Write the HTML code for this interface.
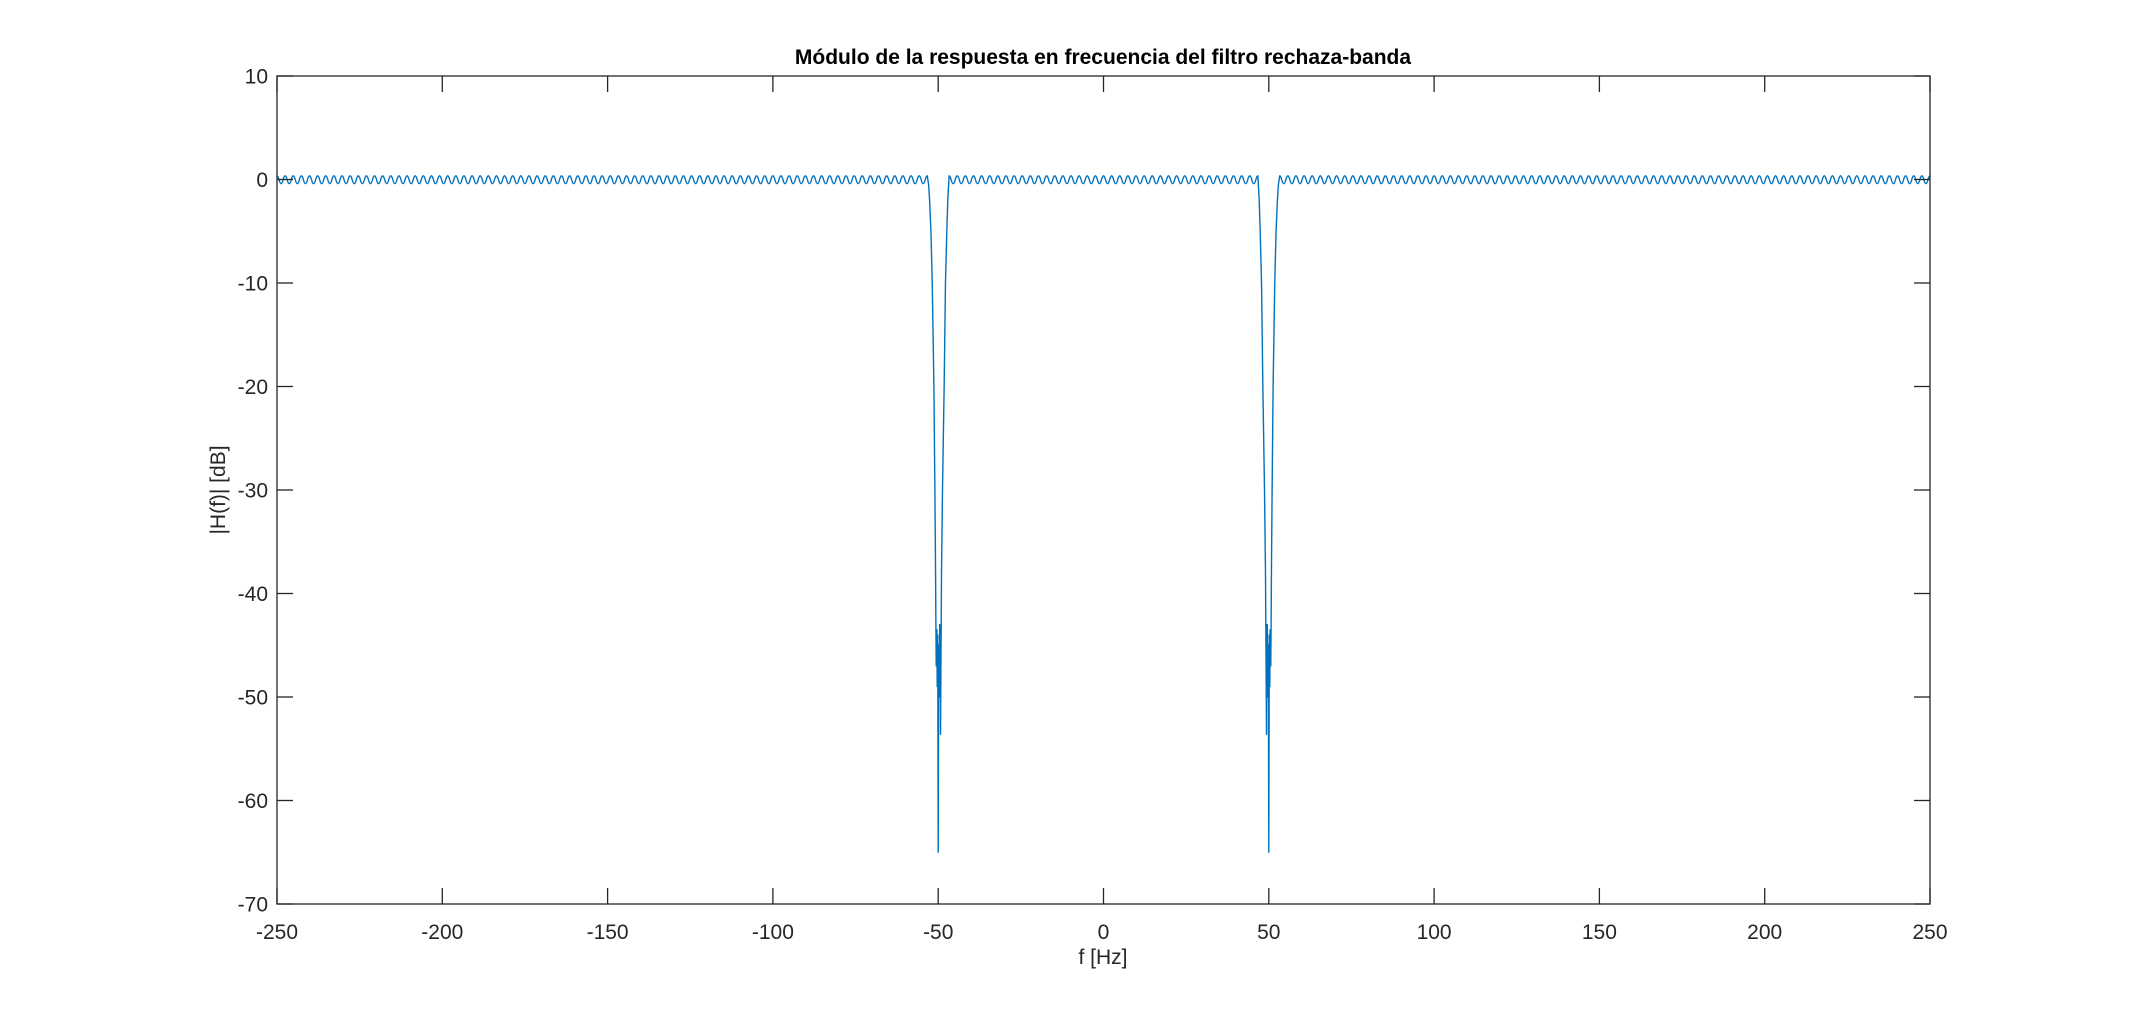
<!DOCTYPE html>
<html><head><meta charset="utf-8"><style>
body{margin:0;background:#fff}
svg text{font-family:"Liberation Sans",Arial,sans-serif;fill:#262626}
</style></head><body>
<svg id="chart" width="2134" height="1017" xmlns="http://www.w3.org/2000/svg">
<rect width="2134" height="1017" fill="#fff"/>
<text x="1103" y="64" font-size="21" font-weight="bold" text-anchor="middle" style="fill:#000">Módulo de la respuesta en frecuencia del filtro rechaza-banda</text>
<text x="1103" y="964" font-size="21" text-anchor="middle">f [Hz]</text>
<text transform="translate(225,490) rotate(-90)" font-size="21" text-anchor="middle">|H(f)| [dB]</text>
<g id="series"></g>
<g id="axes"></g>
</svg>
<script>
const xTicks=[-250,-200,-150,-100,-50,0,50,100,150,200,250];
const yTicks=[10,0,-10,-20,-30,-40,-50,-60,-70];
const segments=[[-250,-53.3],[-46.7,46.7],[53.3,250]];
const rippleCycles=[80,38,80];
const rippleHigh=[0.35,0.35,0.35];
const rippleLow=[-0.4,-0.4,-0.4];
const notchLeftF=[-53.3,-52.9,-52.6,-52.2,-51.8,-51.3,-51.0,-50.8,-50.7,-50.6,-50.4,-50.3,-50.15,-50.0,-49.85,-49.7,-49.55,-49.45,-49.4,-49.3,-49.0,-48.7,-48.2,-47.8,-47.4,-47.1,-46.7];
const notchLeftDb=[0.35,-0.5,-2,-5,-10,-20,-30,-38,-43,-47,-43.5,-49,-44,-65,-45,-50,-43,-47,-43,-53.6,-38,-30,-20,-10,-5,-2,0.35];
const notchRightF=[46.7,47.1,47.4,47.8,48.2,48.7,49.0,49.3,49.4,49.45,49.55,49.7,49.85,50.0,50.15,50.3,50.4,50.6,50.7,50.8,51.0,51.3,51.8,52.2,52.6,52.9,53.3];
const notchRightDb=[0.35,-2,-5,-10,-20,-30,-38,-53.6,-43,-47,-43,-50,-45,-65,-44,-49,-43.5,-47,-43,-38,-30,-20,-10,-5,-2,-0.5,0.35];

const L=277,R=1930,T=76,B=904,xMin=-250,xMax=250,yMin=-70,yMax=10;
const X=f=>L+(f-xMin)/(xMax-xMin)*(R-L);
const Y=v=>B-(v-yMin)/(yMax-yMin)*(B-T);
const NS='http://www.w3.org/2000/svg';
const ser=document.getElementById('series'),ax=document.getElementById('axes');
let d='';
function P(x,y){return X(x).toFixed(2)+','+Y(y).toFixed(2);}
function ripple(i,first){
  const [a,b]=segments[i];const n=rippleCycles[i]*2;
  let px=a,py=rippleHigh[i];
  d+=(first?'M':'L')+P(px,py);
  for(let k=1;k<=n;k++){const f=a+(b-a)*k/n;const v=k%2===0?rippleHigh[i]:rippleLow[i];
    const m=(f-px)/2;d+='C'+P(px+m,py)+' '+P(f-m,v)+' '+P(f,v);px=f;py=v;}
}
function notch(fs,vs){fs.forEach((f,i)=>{if(i>0)d+='L'+P(f,vs[i]);});}
ripple(0,true);
notch(notchLeftF,notchLeftDb);
ripple(1,false);
notch(notchRightF,notchRightDb);
ripple(2,false);
const path=document.createElementNS(NS,'path');


path.setAttribute('d',d);path.setAttribute('fill','none');path.setAttribute('stroke','#0072BD');
path.setAttribute('stroke-width','1.4');path.setAttribute('stroke-linejoin','round');
ser.appendChild(path);
const box=document.createElementNS(NS,'rect');


box.setAttribute('x',L);box.setAttribute('y',T);box.setAttribute('width',R-L);box.setAttribute('height',B-T);
box.setAttribute('fill','none');box.setAttribute('stroke','#262626');box.setAttribute('stroke-width','1.3');
ax.appendChild(box);
function line(x1,y1,x2,y2){const l=document.createElementNS(NS,'line');


l.setAttribute('x1',x1);l.setAttribute('y1',y1);l.setAttribute('x2',x2);l.setAttribute('y2',y2);l.setAttribute('stroke','#262626');l.setAttribute('stroke-width','1.3');ax.appendChild(l);}
xTicks.forEach(t=>{const x=X(t);line(x,B,x,B-16);line(x,T,x,T+16);
const tx=document.createElementNS(NS,'text');


tx.setAttribute('x',x);tx.setAttribute('y',B+35);tx.setAttribute('font-size','21');tx.setAttribute('text-anchor','middle');tx.textContent=t;ax.appendChild(tx);});
yTicks.forEach(t=>{const y=Y(t);line(L,y,L+16,y);line(R,y,R-16,y);
const tx=document.createElementNS(NS,'text');


tx.setAttribute('x',L-9);tx.setAttribute('y',y+7.5);tx.setAttribute('font-size','21');tx.setAttribute('text-anchor','end');tx.textContent=t;ax.appendChild(tx);});
</script>
</body></html>
